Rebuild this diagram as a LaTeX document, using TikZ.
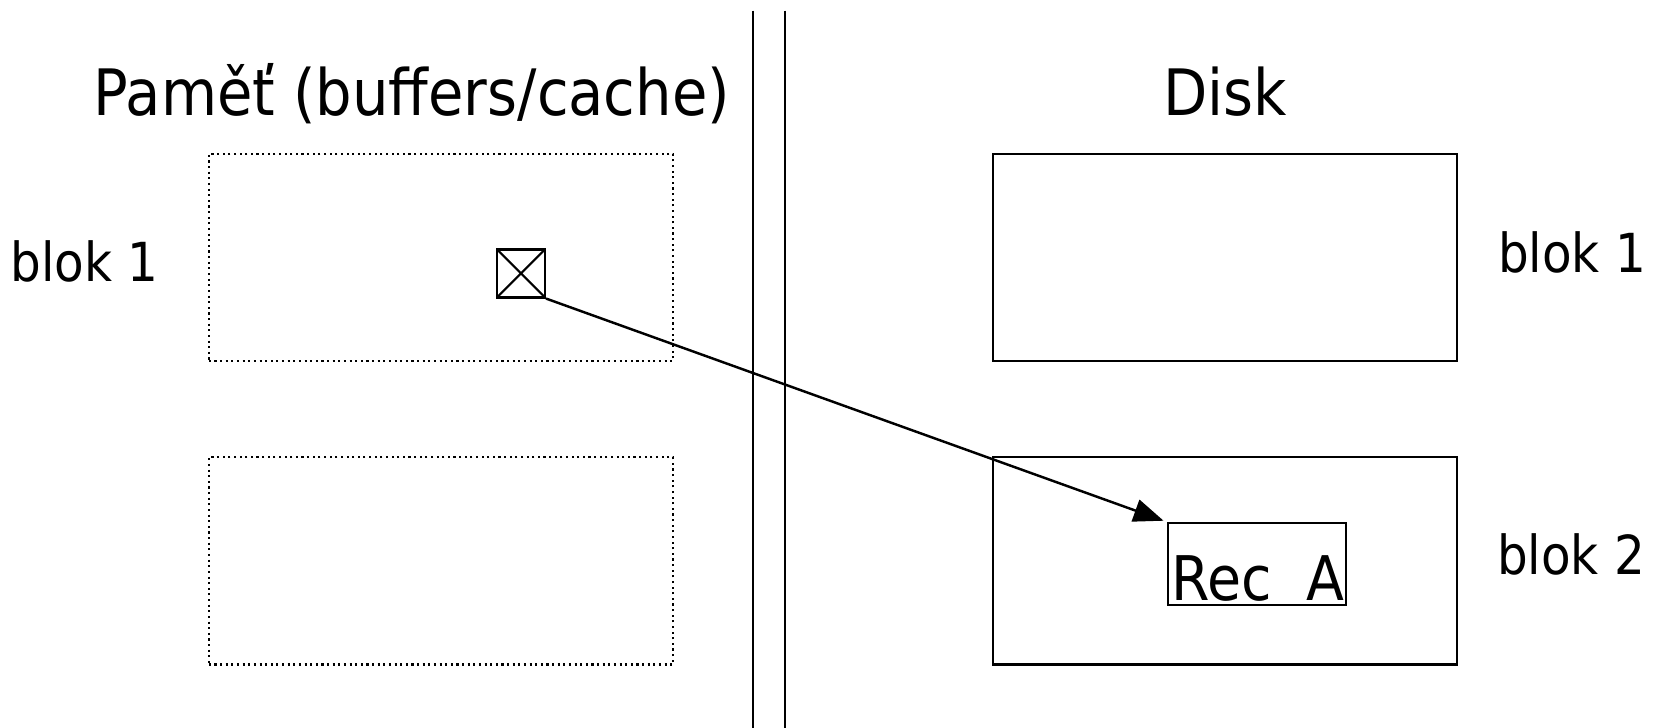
\documentclass[tikz,border=0pt]{standalone}
\usepackage{fontspec}
\setmainfont{DejaVu Sans Condensed}
\usetikzlibrary{arrows.meta}
\tikzset{
	memblock/.style={draw, densely dotted, line width=0.6pt, minimum width=4.64cm, minimum height=2.07cm, inner sep=0pt},
	diskblock/.style={draw, line width=0.6pt, minimum width=4.64cm, minimum height=2.07cm, inner sep=0pt},
	crossbox/.style={draw, line width=0.6pt, minimum size=0.48cm, inner sep=0pt,
		path picture={\draw[line width=0.6pt] (path picture bounding box.north west) -- (path picture bounding box.south east)
			(path picture bounding box.north east) -- (path picture bounding box.south west);}},
	recbox/.style={draw, line width=0.6pt, minimum width=1.78cm, minimum height=0.82cm, inner sep=0pt},
	title/.style={anchor=base, inner sep=0pt, font=\fontsize{18.2}{22}\selectfont},
	label/.style={anchor=base, inner sep=0pt, font=\fontsize{15.3}{18}\selectfont},
}

\begin{document}
\begin{tikzpicture}[x=0.01cm, y=-0.01cm]
			%%%%% START %%%%%
			\useasboundingbox (0, 0) rectangle (1656, 728);
			
			\node[title] (memtitle) at (412, 116) {Paměť (buffers/cache)};
			\node[title] (disktitle) at (1225, 116) {Disk};
			
			\draw[line width=0.8pt] (753, 10.6) -- (753, 728);
			\draw[line width=0.8pt] (785, 10.6) -- (785, 728);
			
			\node[memblock] (mem1) at (441, 257.5) {};
			\node[memblock] (mem2) at (441, 561) {};
			\node[label] (memlab1) at (84.5, 282) {blok 1};
			
			\node[diskblock] (disk1) at (1225, 257.5) {};
			\node[diskblock] (disk2) at (1225, 561) {};
			\node[label] (disklab1) at (1572, 273) {blok 1};
			\node[label] (disklab2) at (1571, 575) {blok 2};
			
			\node[crossbox] (ptr) at (521, 273.5) {};
			
			\node[recbox] (rec) at (1257, 564) {};
			\node[title, font=\fontsize{17.5}{21}\selectfont] (rectext) at (1258, 601) {Rec~ A};
			
			\draw[line width=0.7pt, -{Triangle[length=8.5pt, width=6.5pt]}, shorten >=1pt] (ptr.south east) -- (rec.north west);
			
			%%%%% END %%%%%
\end{tikzpicture}
\end{document}
